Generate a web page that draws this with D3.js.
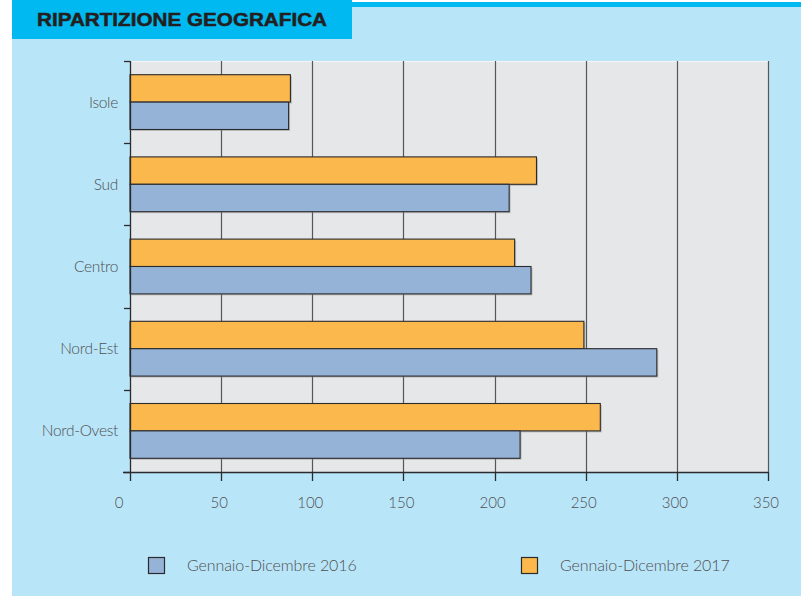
<!DOCTYPE html>
<html><head><meta charset="utf-8">
<script src="https://cdn.jsdelivr.net/npm/d3@7"></script>
<style>html,body{margin:0;padding:0;background:#fff;}svg{display:block;}</style>
</head><body>
<svg id="c" width="801" height="596"></svg>
<script>
const title = "RIPARTIZIONE GEOGRAFICA";
const categories = ["Isole", "Sud", "Centro", "Nord-Est", "Nord-Ovest"];
const values2016 = [87, 208, 220, 289, 214];
const values2017 = [88, 223, 211, 249, 258];
const seriesNames = ["Gennaio-Dicembre 2016", "Gennaio-Dicembre 2017"];
const xTicks = [0, 50, 100, 150, 200, 250, 300, 350];

const C = {bg:"#b9e5f8", head:"#00b9f1", plot:"#e6e7e8", s2016:"#95b3d7", s2017:"#fbb84c", grid:"#555658", text:"#4f5052", dark:"#2b2a2c"};
const svg = d3.select("#c");

// background panel
svg.append("rect").attr("x",12).attr("y",6).attr("width",789).attr("height",590).attr("fill",C.bg);
svg.append("rect").attr("x",352).attr("y",2).attr("width",449).attr("height",5).attr("fill",C.head);
svg.append("rect").attr("x",12).attr("y",0).attr("width",340).attr("height",39).attr("fill",C.head);
svg.append("text").attr("x",37).attr("y",26).text(title)
  .attr("font-family","'Liberation Sans', Arial, sans-serif").attr("font-weight","bold")
  .attr("font-size",19).attr("fill","#231f20").attr("stroke","#231f20").attr("stroke-width",0.5)
  .attr("textLength",290).attr("lengthAdjust","spacingAndGlyphs");

const x = d3.scaleLinear().domain([0,350]).range([130,768]);
const y = d3.scaleBand().domain(categories).range([61,472]).padding(0);
const inner = d3.scaleBand().domain(["2017","2016"]).range([0,y.bandwidth()]).paddingInner(0).paddingOuter(0.5);

// plot area
svg.append("rect").attr("x",x(0)).attr("y",61).attr("width",x(350)-x(0)).attr("height",411).attr("fill",C.plot);
svg.append("line").attr("x1",x(0)).attr("x2",x(350)).attr("y1",61.5).attr("y2",61.5).attr("stroke","#f4f5f6");

// gridlines
svg.append("g").selectAll("line").data(xTicks.filter(d=>d>0)).join("line")
  .attr("x1",d=>Math.round(x(d))+0.5).attr("x2",d=>Math.round(x(d))+0.5)
  .attr("y1",61).attr("y2",472).attr("stroke",C.grid).attr("stroke-width",1.2);

// bars
const rows = categories.map((c,i)=>({cat:c, v2016:values2016[i], v2017:values2017[i]}));
const bars = [];
rows.forEach(r=>{
  bars.push({cat:r.cat, key:"2017", v:r.v2017, color:C.s2017});
  bars.push({cat:r.cat, key:"2016", v:r.v2016, color:C.s2016});
});
const gb = svg.append("g");
gb.selectAll("rect.sh").data(bars).join("rect").attr("class","sh")
  .attr("x",x(0)+1.5).attr("y",d=>y(d.cat)+inner(d.key)+1.5)
  .attr("width",d=>x(d.v)-x(0)).attr("height",inner.bandwidth())
  .attr("fill","#8a8a8a").attr("opacity",0.45);
gb.selectAll("rect.b").data(bars).join("rect").attr("class","b")
  .attr("x",x(0)).attr("y",d=>y(d.cat)+inner(d.key))
  .attr("width",d=>x(d.v)-x(0)).attr("height",inner.bandwidth())
  .attr("fill",d=>d.color).attr("stroke",C.dark).attr("stroke-width",1.1);

// axes lines
const ax = svg.append("g").attr("stroke",C.dark).attr("stroke-width",1.3);
ax.append("line").attr("x1",130.5).attr("x2",130.5).attr("y1",61).attr("y2",481);
ax.append("line").attr("x1",123).attr("x2",768).attr("y1",472.5).attr("y2",472.5);
const bounds = categories.map(c=>y(c)).concat([y.range()[1]]);
ax.selectAll("line.lt").data(bounds).join("line").attr("class","lt")
  .attr("x1",124).attr("x2",130).attr("y1",d=>Math.round(d)+0.5).attr("y2",d=>Math.round(d)+0.5);
ax.selectAll("line.bt").data(xTicks.filter(d=>d>0)).join("line").attr("class","bt")
  .attr("x1",d=>Math.round(x(d))+0.5).attr("x2",d=>Math.round(x(d))+0.5).attr("y1",472).attr("y2",481);

const font = "Lato, 'Liberation Sans', sans-serif";
// tick labels
svg.append("g").selectAll("text").data(xTicks).join("text")
  .attr("x",d=>x(d)-(d===0?11:2)).attr("y",508).attr("text-anchor","middle")
  .attr("font-family",font).attr("font-weight",300).attr("font-size",15).attr("fill",C.text)
  .text(d=>d);

// category labels
svg.append("g").selectAll("text").data(categories).join("text")
  .attr("x",118).attr("y",d=>y(d)+y.bandwidth()/2+5.5).attr("text-anchor","end")
  .attr("font-family",font).attr("font-weight",300).attr("font-size",15.5).attr("fill",C.text)
  .attr("letter-spacing",-0.3)
  .text(d=>d);

// legend
const legend = [{name:seriesNames[0], color:C.s2016, x:148},{name:seriesNames[1], color:C.s2017, x:521}];
const lg = svg.append("g").selectAll("g").data(legend).join("g").attr("transform",d=>`translate(${d.x},557)`);
lg.append("rect").attr("x",0.5).attr("y",0.5).attr("width",16).attr("height",16)
  .attr("fill",d=>d.color).attr("stroke",C.dark).attr("stroke-width",1.2);
lg.append("text").attr("x",39).attr("y",14).text(d=>d.name)
  .attr("font-family",font).attr("font-weight",300).attr("font-size",16).attr("fill",C.text)
  .attr("letter-spacing",-0.1);
</script>
</body></html>
